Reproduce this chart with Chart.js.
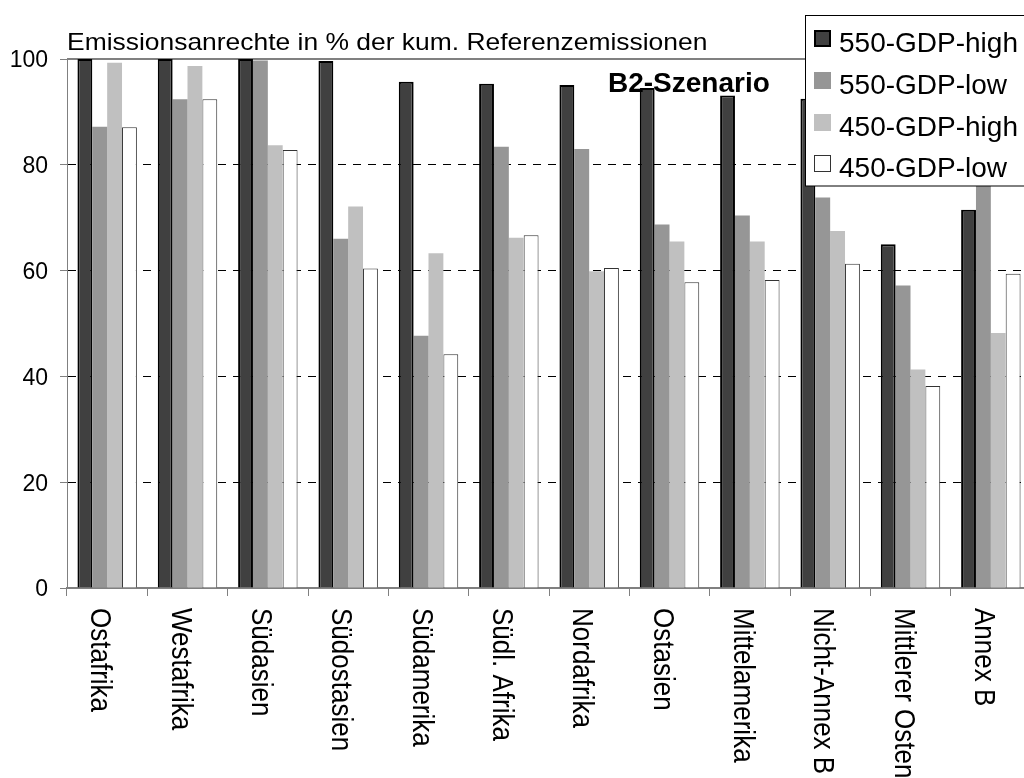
<!DOCTYPE html>
<html>
<head>
<meta charset="utf-8">
<script src="https://cdn.jsdelivr.net/npm/chart.js@4/dist/chart.umd.min.js"></script>
<style>
  html, body { margin: 0; padding: 0; background: #fff; overflow: hidden; width: 1024px; height: 778px; }
  #wrap { position: relative; width: 1040px; height: 778px; }
</style>
</head>
<body>
<div id="wrap"><canvas id="c" width="1040" height="778"></canvas></div>
<script>
// Regions (x categories)
const categories = ['Ostafrika', 'Westafrika', 'Südasien', 'Südostasien', 'Südamerika', 'Südl. Afrika',
  'Nordafrika', 'Ostasien', 'Mittelamerika', 'Nicht-Annex B', 'Mittlerer Osten', 'Annex B'];

// Emission rights in % of cumulative reference emissions, per scenario
const s550High = [100, 100, 100, 99.6, 95.7, 95.3, 95.1, 94.5, 93.1, 92.5, 65.0, 71.5];
const s550Low  = [87.2, 92.4, 99.7, 66.0, 47.7, 83.4, 83.0, 68.7, 70.4, 73.8, 57.2, 80.0];
const s450High = [99.3, 98.7, 83.7, 72.1, 63.3, 66.2, 59.9, 65.5, 65.5, 67.5, 41.3, 48.2];
const s450Low  = [87.1, 92.4, 82.8, 60.4, 44.2, 66.7, 60.5, 57.8, 58.2, 61.3, 38.2, 59.4];

const seriesNames = ['550-GDP-high', '550-GDP-low', '450-GDP-high', '450-GDP-low'];
const yTicks = [0, 20, 40, 60, 80, 100];

const titleText = 'Emissionsanrechte in % der kum. Referenzemissionen';
const scenarioText = 'B2-Szenario';

const FONT = "'Liberation Sans', Arial, Helvetica, sans-serif";
Chart.defaults.font.family = FONT;
Chart.defaults.color = '#000';

const decorations = {
  id: 'decorations',
  beforeDatasetsDraw(chart) {
    const { ctx, chartArea } = chart;
    // solid frame line at the top of the plot area
    ctx.save();
    ctx.strokeStyle = '#808080';
    ctx.lineWidth = 2;
    ctx.beginPath();
    ctx.moveTo(chartArea.left, chartArea.top);
    ctx.lineTo(chartArea.right, chartArea.top);
    ctx.stroke();
    ctx.restore();
  },
  afterDraw(chart) {
    const { ctx } = chart;
    const xScale = chart.scales.x;
    ctx.save();

    // heading above the plot (slightly widened lettering)
    ctx.fillStyle = '#000';
    ctx.textAlign = 'left';
    ctx.textBaseline = 'alphabetic';
    ctx.save();
    ctx.translate(67, 50);
    ctx.scale(1.12, 1);
    ctx.font = `23.6px ${FONT}`;
    ctx.fillText(titleText, 0, 0);
    ctx.restore();

    // scenario label
    ctx.font = `bold 28px ${FONT}`;
    ctx.fillText(scenarioText, 608, 92);

    // vertical category labels, reading downwards
    ctx.font = `26px ${FONT}`;
    categories.forEach((label, i) => {
      const x = xScale.getPixelForValue(i);
      ctx.save();
      ctx.translate(x, 608);
      ctx.rotate(Math.PI / 2);
      ctx.scale(1, 1.12);
      ctx.fillText(label, 0, 16 / 1.12);
      ctx.restore();
    });

    // legend box
    const lx = 805.5, ly = 15.5;
    ctx.fillStyle = '#fff';
    ctx.fillRect(lx, ly, 260, 170.5);
    ctx.strokeStyle = '#000';
    ctx.lineWidth = 1;
    ctx.strokeRect(lx, ly, 260, 170.5);
    const baselines = [52, 94, 136, 177];
    ctx.font = `28px ${FONT}`;
    chart.data.datasets.forEach((ds, i) => {
      const b = baselines[i];
      const sx = 814, sy = b - 22, sz = 17;
      ctx.fillStyle = ds.backgroundColor;
      ctx.fillRect(sx, sy, sz, sz);
      if (ds.borderWidth > 0) {
        ctx.strokeStyle = ds.borderColor;
        ctx.lineWidth = ds.borderWidth;
        const h = ds.borderWidth / 2;
        ctx.strokeRect(sx + h, sy + h, sz - ds.borderWidth, sz - ds.borderWidth);
      }
      ctx.fillStyle = '#000';
      ctx.fillText(ds.label, 839, b);
    });
    ctx.restore();
  }
};

new Chart(document.getElementById('c'), {
  type: 'bar',
  data: {
    labels: categories,
    datasets: [
      { label: seriesNames[0], data: s550High, backgroundColor: '#404040', borderColor: '#000', borderWidth: 2 },
      { label: seriesNames[1], data: s550Low, backgroundColor: '#969696', borderColor: '#969696', borderWidth: 0 },
      { label: seriesNames[2], data: s450High, backgroundColor: '#c0c0c0', borderColor: '#c0c0c0', borderWidth: 0 },
      { label: seriesNames[3], data: s450Low, backgroundColor: '#ffffff', borderColor: '#333333', borderWidth: 1 }
    ]
  },
  options: {
    responsive: false,
    animation: false,
    devicePixelRatio: 1,
    categoryPercentage: 0.74,
    barPercentage: 1.0,
    layout: { padding: { top: 59, right: 9, left: 0, bottom: 0 } },
    plugins: { legend: { display: false }, tooltip: { enabled: false }, title: { display: false } },
    scales: {
      x: {
        type: 'category',
        offset: true,
        grid: {
          display: true, offset: true, drawOnChartArea: false, drawTicks: true,
          tickLength: 8, color: '#808080', tickColor: '#808080', lineWidth: 1
        },
        border: { display: true, color: '#808080', width: 2 },
        ticks: { display: false },
        afterFit(scale) { scale.height = 190; }
      },
      y: {
        min: 0, max: 100,
        afterBuildTicks(scale) { scale.ticks = yTicks.map(v => ({ value: v })); },
        ticks: { font: { size: 23 }, color: '#000', padding: 12, labelOffset: 2 },
        grid: {
          color: (c) => (c.tick && (c.tick.value === 0 || c.tick.value === 100)) ? 'rgba(0,0,0,0)' : '#000',
          tickColor: '#808080', lineWidth: 1, drawTicks: true, tickLength: 7
        },
        border: { display: true, color: '#808080', width: 1, dash: [8, 7] },
        afterFit(scale) { scale.width = 67; }
      }
    }
  },
  plugins: [decorations]
});
</script>
</body>
</html>
